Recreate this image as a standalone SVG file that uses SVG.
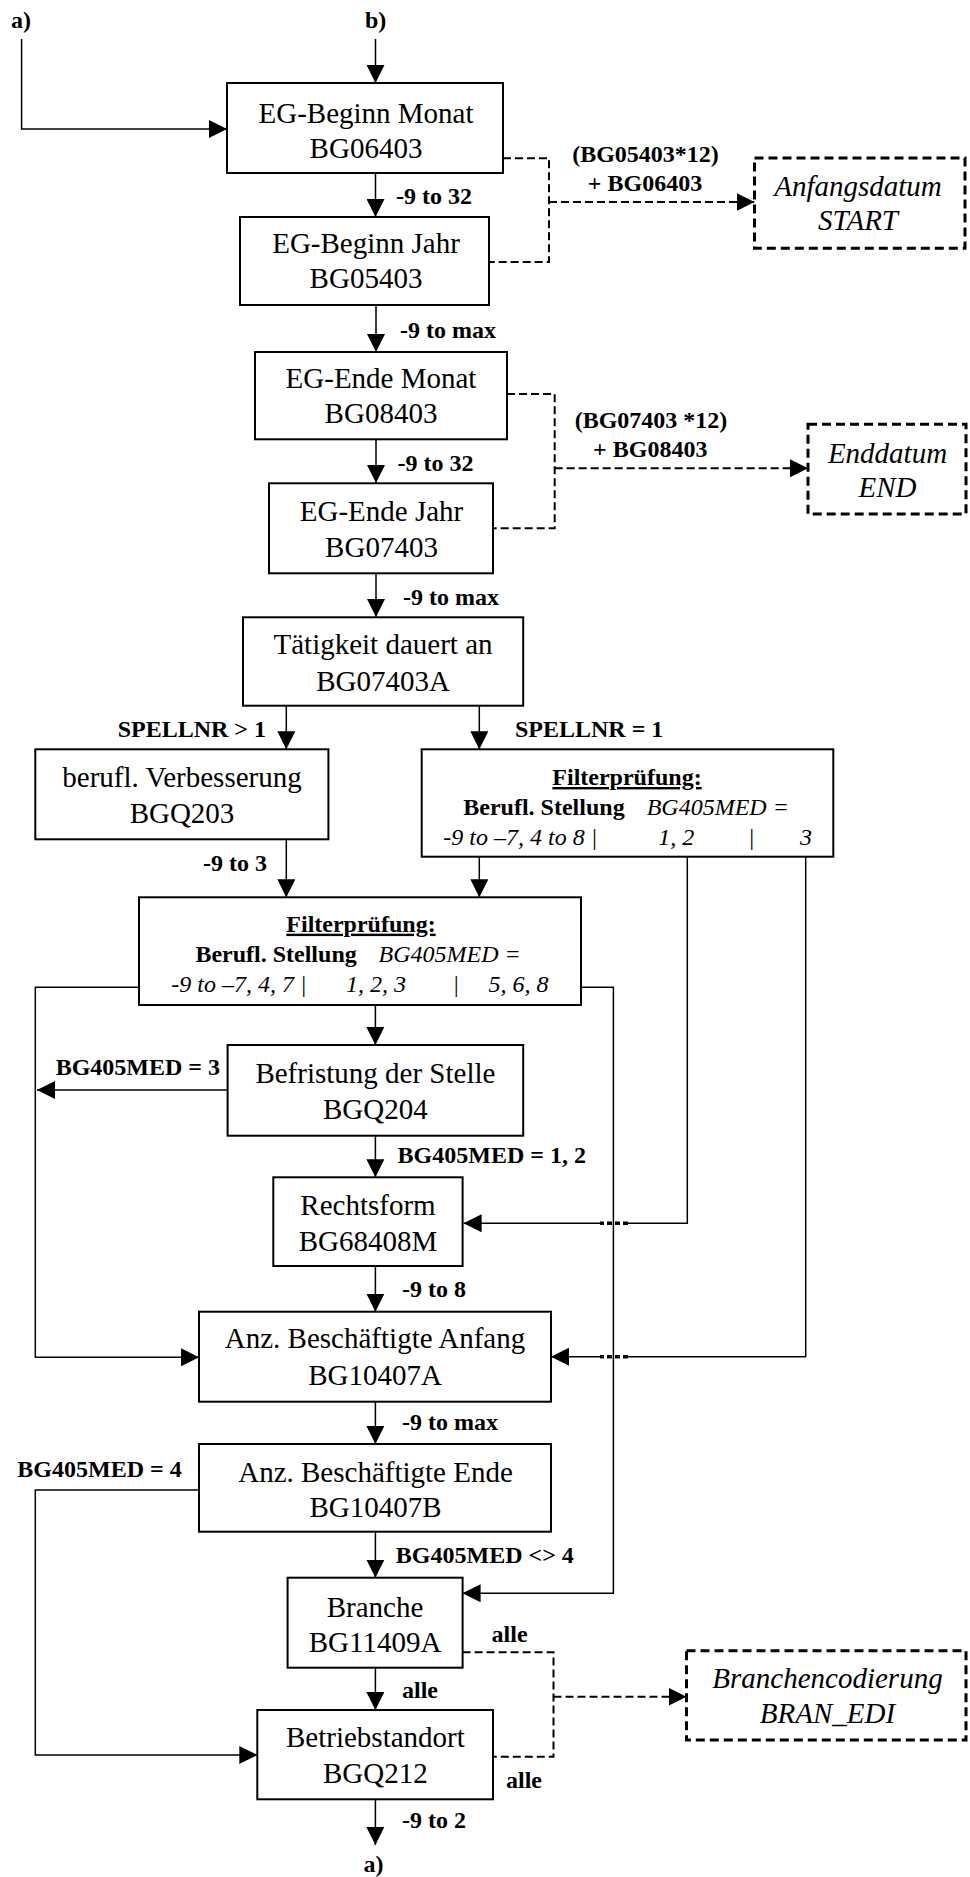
<svg xmlns="http://www.w3.org/2000/svg" width="970" height="1877" viewBox="0 0 970 1877">
<style>
.box{fill:#fff;stroke:#000;stroke-width:2}
.dbox{fill:#fff;stroke:#000;stroke-width:3;stroke-dasharray:9 5}
.t{font-family:"Liberation Serif","Times New Roman",serif;font-size:29px;text-anchor:middle;fill:#000}
.i{font-style:italic}
.lb{font-family:"Liberation Serif","Times New Roman",serif;font-size:24px;font-weight:bold;fill:#000}
.f{font-family:"Liberation Serif","Times New Roman",serif;font-size:24px;fill:#000}
.c{fill:none;stroke:#000;stroke-width:1.5}
.d{fill:none;stroke:#000;stroke-width:2;stroke-dasharray:8 4}
.hop{fill:none;stroke:#000;stroke-width:3.5;stroke-dasharray:5 3}
</style>
<defs>
<marker id="ah" markerUnits="userSpaceOnUse" markerWidth="18" markerHeight="18" refX="18" refY="9" orient="auto">
<path d="M0,0 L18,9 L0,18 z" fill="#000"/>
</marker>
</defs>
<rect width="970" height="1877" fill="#fff"/>

<g id="connectors">
<path class="c" d="M21.6,39 V129 H227" marker-end="url(#ah)"/>
<path class="c" d="M375.5,39 V83" marker-end="url(#ah)"/>
<path class="c" d="M375.5,173 V217" marker-end="url(#ah)"/>
<path class="c" d="M376,305 V352" marker-end="url(#ah)"/>
<path class="c" d="M376,439 V483" marker-end="url(#ah)"/>
<path class="c" d="M376,573 V617" marker-end="url(#ah)"/>
<path class="c" d="M286.3,706 V749.3" marker-end="url(#ah)"/>
<path class="c" d="M479.3,706 V749.3" marker-end="url(#ah)"/>
<path class="c" d="M286.3,839.3 V897.3" marker-end="url(#ah)"/>
<path class="c" d="M479.3,856.7 V897.3" marker-end="url(#ah)"/>
<path class="c" d="M139,987.3 H35.3 V1357.3 H199" marker-end="url(#ah)"/>
<path class="c" d="M581,987.3 H613.4 V1593.3 H462.6" marker-end="url(#ah)"/>
<path class="c" d="M375.4,1005 V1045" marker-end="url(#ah)"/>
<path class="c" d="M227.6,1090 H37" marker-end="url(#ah)"/>
<path class="c" d="M375.4,1135.7 V1177.3" marker-end="url(#ah)"/>
<path class="c" d="M687.3,856.7 V1223.3 H628"/>
<path class="hop" d="M628,1223.3 H600"/>
<path class="c" d="M600,1223.3 H463.6" marker-end="url(#ah)"/>
<path class="c" d="M805.7,856.7 V1356.7 H628"/>
<path class="hop" d="M628,1356.7 H600"/>
<path class="c" d="M600,1356.7 H551" marker-end="url(#ah)"/>
<path class="c" d="M375.4,1266 V1311.7" marker-end="url(#ah)"/>
<path class="c" d="M375.4,1401.7 V1444" marker-end="url(#ah)"/>
<path class="c" d="M199,1490 H35.3 V1755 H257.3" marker-end="url(#ah)"/>
<path class="c" d="M375.4,1531.7 V1577.7" marker-end="url(#ah)"/>
<path class="c" d="M375.4,1667.7 V1710" marker-end="url(#ah)"/>
<path class="c" d="M375.4,1799.3 V1845" marker-end="url(#ah)"/>
<path class="d" d="M503,158.3 H549 V262 H489"/>
<path class="d" d="M549,202 H754.5" marker-end="url(#ah)"/>
<path class="d" d="M507,394 H554.7 V528.3 H493"/>
<path class="d" d="M554.7,468.3 H808" marker-end="url(#ah)"/>
<path class="d" d="M462.6,1652.3 H553.5 V1756.7 H493"/>
<path class="d" d="M553.5,1696.7 H686.5" marker-end="url(#ah)"/>
</g>

<g id="labels">
<text class="lb" x="11" y="28">a)</text>
<text class="lb" x="365" y="28">b)</text>
<text class="lb" x="396" y="204">-9 to 32</text>
<text class="lb" x="645.5" y="162" text-anchor="middle">(BG05403*12)</text>
<text class="lb" x="645" y="190.7" text-anchor="middle">+ BG06403</text>
<text class="lb" x="400" y="338">-9 to max</text>
<text class="lb" x="651" y="428.3" text-anchor="middle">(BG07403 *12)</text>
<text class="lb" x="650.3" y="456.7" text-anchor="middle">+ BG08403</text>
<text class="lb" x="397.6" y="470.7">-9 to 32</text>
<text class="lb" x="403" y="605">-9 to max</text>
<text class="lb" x="266" y="737.3" text-anchor="end">SPELLNR &gt; 1</text>
<text class="lb" x="515" y="737.3">SPELLNR = 1</text>
<text class="lb" x="267" y="870.7" text-anchor="end">-9 to 3</text>
<text class="lb" x="55.7" y="1075">BG405MED = 3</text>
<text class="lb" x="397.6" y="1162.7">BG405MED = 1, 2</text>
<text class="lb" x="402" y="1296.7">-9 to 8</text>
<text class="lb" x="402" y="1430">-9 to max</text>
<text class="lb" x="17.3" y="1477.3">BG405MED = 4</text>
<text class="lb" x="395.8" y="1563.3">BG405MED &lt;&gt; 4</text>
<text class="lb" x="491.6" y="1641.7">alle</text>
<text class="lb" x="402" y="1698.3">alle</text>
<text class="lb" x="506" y="1788.3">alle</text>
<text class="lb" x="402" y="1828.3">-9 to 2</text>
<text class="lb" x="363.6" y="1872">a)</text>
</g>

<g id="n-eg-beginn-monat">
<rect class="box" x="227" y="83" width="276" height="90"/>
<text class="t" x="366" y="123">EG-Beginn Monat</text>
<text class="t" x="366" y="157.5">BG06403</text>
</g>
<g id="n-eg-beginn-jahr">
<rect class="box" x="240" y="217" width="249" height="88"/>
<text class="t" x="366" y="253.3">EG-Beginn Jahr</text>
<text class="t" x="366" y="288.3">BG05403</text>
</g>
<g id="n-start">
<rect class="dbox" x="754.5" y="158" width="210.5" height="90.3"/>
<text class="t i" x="858" y="196">Anfangsdatum</text>
<text class="t i" x="858" y="230">START</text>
</g>
<g id="n-eg-ende-monat">
<rect class="box" x="255" y="352" width="252" height="87.3"/>
<text class="t" x="381" y="388.3">EG-Ende Monat</text>
<text class="t" x="381" y="423.3">BG08403</text>
</g>
<g id="n-eg-ende-jahr">
<rect class="box" x="269" y="483.3" width="224" height="90"/>
<text class="t" x="381.5" y="521">EG-Ende Jahr</text>
<text class="t" x="381.5" y="556.7">BG07403</text>
</g>
<g id="n-end">
<rect class="dbox" x="808" y="424.3" width="158" height="89.7"/>
<text class="t i" x="887.5" y="462.7">Enddatum</text>
<text class="t i" x="887.5" y="496.7">END</text>
</g>
<g id="n-taetigkeit">
<rect class="box" x="243" y="617.3" width="280.2" height="88.4"/>
<text class="t" x="383" y="654.3">Tätigkeit dauert an</text>
<text class="t" x="383" y="690.7">BG07403A</text>
</g>
<g id="n-verbesserung">
<rect class="box" x="35.3" y="749.3" width="293.1" height="90"/>
<text class="t" x="182" y="787.3">berufl. Verbesserung</text>
<text class="t" x="182" y="822.7">BGQ203</text>
</g>
<g id="n-filter1">
<rect class="box" x="421.7" y="749.3" width="411.6" height="107.4"/>
<text class="lb" x="627" y="785" text-anchor="middle" text-decoration="underline">Filterprüfung:</text>
<text class="lb" x="463.3" y="815">Berufl. Stellung</text>
<text class="f i" x="646.7" y="815">BG405MED =</text>
<text class="f i" x="443.3" y="845">-9 to –7, 4 to 8 |</text>
<text class="f i" x="658.3" y="845">1, 2</text>
<text class="f i" x="748" y="845">|</text>
<text class="f i" x="800" y="845">3</text>
</g>
<g id="n-filter2">
<rect class="box" x="139" y="897.3" width="442" height="107.7"/>
<text class="lb" x="361" y="931.7" text-anchor="middle" text-decoration="underline">Filterprüfung:</text>
<text class="lb" x="195.4" y="961.7">Berufl. Stellung</text>
<text class="f i" x="378.5" y="961.7">BG405MED =</text>
<text class="f i" x="171.3" y="991.7">-9 to –7, 4, 7 |</text>
<text class="f i" x="346" y="991.7">1, 2, 3</text>
<text class="f i" x="452.5" y="991.7">|</text>
<text class="f i" x="488.6" y="991.7">5, 6, 8</text>
</g>
<g id="n-befristung">
<rect class="box" x="227.6" y="1045" width="295.6" height="90.7"/>
<text class="t" x="375.4" y="1083.3">Befristung der Stelle</text>
<text class="t" x="375.4" y="1119.3">BGQ204</text>
</g>
<g id="n-rechtsform">
<rect class="box" x="273.3" y="1177.3" width="189.3" height="88.7"/>
<text class="t" x="368" y="1215">Rechtsform</text>
<text class="t" x="368" y="1251">BG68408M</text>
</g>
<g id="n-anz-anfang">
<rect class="box" x="199" y="1311.7" width="352" height="90"/>
<text class="t" x="375" y="1348.3">Anz. Beschäftigte Anfang</text>
<text class="t" x="375" y="1385">BG10407A</text>
</g>
<g id="n-anz-ende">
<rect class="box" x="199" y="1444" width="352" height="87.7"/>
<text class="t" x="375.5" y="1481.7">Anz. Beschäftigte Ende</text>
<text class="t" x="375.5" y="1517.3">BG10407B</text>
</g>
<g id="n-branche">
<rect class="box" x="287.6" y="1577.7" width="175" height="90"/>
<text class="t" x="375" y="1616.7">Branche</text>
<text class="t" x="375" y="1651.7">BG11409A</text>
</g>
<g id="n-branchencodierung">
<rect class="dbox" x="686.5" y="1650.7" width="279.5" height="89.3"/>
<text class="t i" x="827.5" y="1688.3">Branchencodierung</text>
<text class="t i" x="827.5" y="1722.7">BRAN_EDI</text>
</g>
<g id="n-betriebstandort">
<rect class="box" x="257.3" y="1710" width="235.7" height="89.3"/>
<text class="t" x="375.4" y="1746.7">Betriebstandort</text>
<text class="t" x="375.4" y="1783.3">BGQ212</text>
</g>
</svg>
